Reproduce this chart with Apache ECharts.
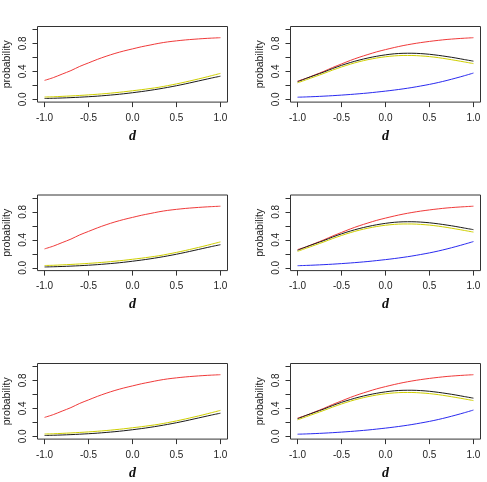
<!DOCTYPE html>
<html><head><meta charset="utf-8">
<script src="https://cdn.jsdelivr.net/npm/echarts@6/dist/echarts.min.js"></script>
<style>html,body{margin:0;padding:0;background:#fff}#c{width:487px;height:482px}</style>
</head><body><div id="c"></div>
<script>
const dValues = [-1, -0.9, -0.8, -0.7, -0.6, -0.5, -0.4, -0.3, -0.2, -0.1, 0, 0.1, 0.2, 0.3, 0.4, 0.5, 0.6, 0.7, 0.8, 0.9, 1];
const xTicks = [-1, -0.5, 0, 0.5, 1];
const yTicks = [0, 0.2, 0.4, 0.6, 0.8, 1.0];
const yTickLabels = [0, 0.4, 0.8];

const leftRed    = [0.27, 0.31, 0.36, 0.41, 0.47, 0.52, 0.57, 0.615, 0.655, 0.69, 0.72, 0.75, 0.775, 0.80, 0.82, 0.835, 0.848, 0.858, 0.867, 0.874, 0.88];
const leftYellow = [0.033, 0.036, 0.042, 0.048, 0.055, 0.063, 0.072, 0.082, 0.094, 0.107, 0.122, 0.137, 0.154, 0.172, 0.195, 0.22, 0.247, 0.276, 0.306, 0.338, 0.37];
const leftBlack  = [0.012, 0.015, 0.019, 0.024, 0.03, 0.037, 0.045, 0.055, 0.066, 0.079, 0.094, 0.11, 0.128, 0.148, 0.17, 0.194, 0.22, 0.248, 0.276, 0.304, 0.33];

const rightRed    = [0.26, 0.30, 0.35, 0.40, 0.455, 0.505, 0.555, 0.60, 0.64, 0.678, 0.71, 0.74, 0.767, 0.79, 0.81, 0.827, 0.842, 0.855, 0.865, 0.873, 0.88];
const rightBlack  = [0.25, 0.30, 0.345, 0.39, 0.44, 0.485, 0.525, 0.56, 0.59, 0.615, 0.635, 0.65, 0.657, 0.658, 0.653, 0.643, 0.628, 0.61, 0.59, 0.567, 0.545];
const rightYellow = [0.235, 0.28, 0.325, 0.37, 0.418, 0.462, 0.502, 0.537, 0.566, 0.59, 0.608, 0.62, 0.626, 0.626, 0.62, 0.61, 0.595, 0.576, 0.555, 0.533, 0.51];
const rightBlue   = [0.03, 0.034, 0.039, 0.045, 0.052, 0.06, 0.069, 0.079, 0.09, 0.103, 0.117, 0.132, 0.149, 0.168, 0.19, 0.213, 0.24, 0.27, 0.303, 0.338, 0.375];

const colors = {red:'#f03a3a', black:'#1a1a1a', yellow:'#cfcf00', blue:'#2a2af0'};
const pair = arr => dValues.map((d,i)=>[d, arr[i]]);

const panels = [];
const tops = [26.5, 195, 363.5];
tops.forEach(t => {
  panels.push({left:37.5, top:t, lines:[['black',leftBlack],['yellow',leftYellow],['red',leftRed]]});
  panels.push({left:290.5, top:t, lines:[['red',rightRed],['black',rightBlack],['yellow',rightYellow],['blue',rightBlue]]});
});

const grid=[], xAxis=[], yAxis=[], series=[];
const txt = '#222';
panels.forEach((p,i)=>{
  grid.push({left:p.left, top:p.top, width:190, height:75.6, show:true, borderColor:'#333', borderWidth:1, backgroundColor:'transparent'});
  xAxis.push({type:'value', gridIndex:i, min:-1.08, max:1.08,
    axisLine:{show:false, onZero:false}, splitLine:{show:false},
    axisTick:{show:true, inside:false, length:5, customValues:xTicks, lineStyle:{color:'#333'}},
    axisLabel:{customValues:xTicks, formatter:v=>v.toFixed(1), fontSize:10, color:txt, margin:11, fontFamily:'Liberation Sans, Arial'},
    name:'d', nameLocation:'middle', nameGap:27,
    nameTextStyle:{fontFamily:'Liberation Serif, DejaVu Serif, serif', fontStyle:'italic', fontWeight:'bold', fontSize:14, color:'#111'}
  });
  yAxis.push({type:'value', gridIndex:i, min:-0.04, max:1.04,
    axisLine:{show:false, onZero:false}, splitLine:{show:false},
    axisTick:{show:true, inside:false, length:5, customValues:yTicks, lineStyle:{color:'#333'}},
    axisLabel:{customValues:yTickLabels, formatter:v=>v.toFixed(1), rotate:90, fontSize:10, color:txt, margin:9, fontFamily:'Liberation Sans, Arial'},
    name:'probability', nameLocation:'middle', nameGap:25,
    nameTextStyle:{fontFamily:'Liberation Sans, Arial', fontSize:10.5, color:txt}
  });
  p.lines.forEach(([c,arr])=>{
    series.push({type:'line', xAxisIndex:i, yAxisIndex:i, data:pair(arr), smooth:0.3, showSymbol:false, silent:true,
      lineStyle:{color:colors[c], width:1}});
  });
});

const chart = echarts.init(document.getElementById('c'), null, {renderer:'canvas'});
chart.setOption({animation:false, backgroundColor:'#fff', grid, xAxis, yAxis, series});
</script></body></html>
